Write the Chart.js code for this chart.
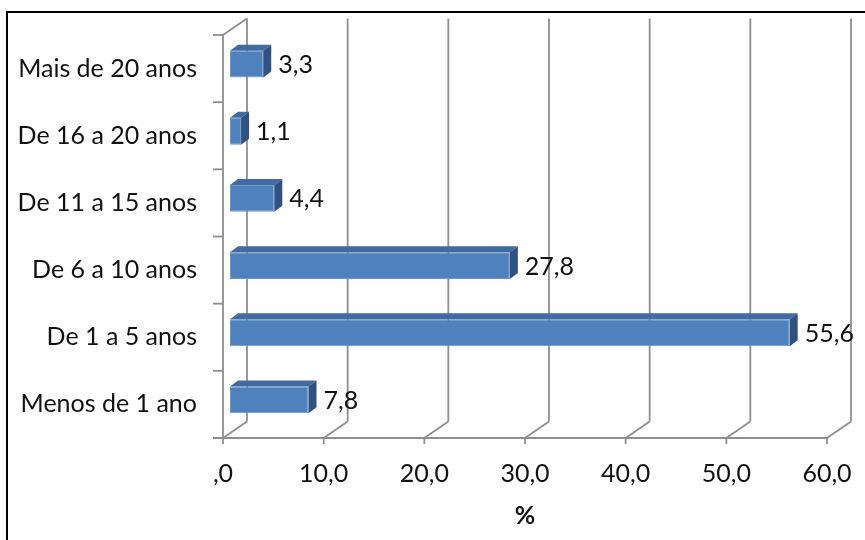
<!DOCTYPE html>
<html>
<head>
<meta charset="utf-8">
<script src="https://cdn.jsdelivr.net/npm/chart.js@4/dist/chart.umd.min.js"></script>
<style>
  body { margin: 0; background: #fff; }
  canvas { display: block; }
</style>
</head>
<body>
<canvas id="chart" width="865" height="540"></canvas>
<script>
const categories = ['Menos de 1 ano', 'De 1 a 5 anos', 'De 6 a 10 anos', 'De 11 a 15 anos', 'De 16 a 20 anos', 'Mais de 20 anos'];
const percentages = [7.8, 55.6, 27.8, 4.4, 1.1, 3.3];
const xTickValues = [0, 10, 20, 30, 40, 50, 60];
const xTickLabels = [',0', '10,0', '20,0', '30,0', '40,0', '50,0', '60,0'];

const FONT = 'Lato, "Noto Sans", sans-serif';
const GRID = '#8e8e8e';
// depth of the 3d box (floor / back wall) and of the bars
const WALL_DX = 24, WALL_DY = -16.5;
const BAR_SHIFT_X = 7, BAR_SHIFT_Y = -4.5;
const BAR_DX = 8, BAR_DY = -6;

const fmt = v => v.toFixed(1).replace('.', ',');

function line(ctx, x1, y1, x2, y2) {
  ctx.beginPath();
  ctx.moveTo(x1, y1);
  ctx.lineTo(x2, y2);
  ctx.stroke();
}

const frame3d = {
  id: 'frame3d',
  beforeDraw(chart) {
    const ctx = chart.ctx;
    ctx.save();
    ctx.fillStyle = '#000';
    ctx.fillRect(6, 11, 2, chart.height);
    ctx.fillRect(6, 11, chart.width, 2);
    ctx.restore();
  },
  beforeDatasetsDraw(chart) {
    const ctx = chart.ctx;
    const xs = chart.scales.x, ys = chart.scales.y;
    const top = ys.top, bottom = ys.bottom, left = xs.left;
    ctx.save();
    ctx.strokeStyle = GRID;
    ctx.lineWidth = 1.8;
    ctx.lineCap = 'butt';
    xTickValues.forEach(v => {
      const px = xs.getPixelForValue(v);
      line(ctx, px, bottom, px + WALL_DX, bottom + WALL_DY);
      line(ctx, px + WALL_DX, bottom + WALL_DY, px + WALL_DX, top + WALL_DY);
      line(ctx, px, bottom, px, bottom + 6);
    });
    // front axis and left wall
    line(ctx, left - 10, bottom, xs.getPixelForValue(60), bottom);
    line(ctx, left, top, left, bottom);
    line(ctx, left, top, left + WALL_DX, top + WALL_DY);
    const n = categories.length;
    for (let i = 0; i <= n; i++) {
      const y = top + i * (bottom - top) / n;
      line(ctx, left - 10, y, left, y);
    }
    ctx.restore();
    ctx.save();
    ctx.translate(BAR_SHIFT_X, BAR_SHIFT_Y);
  },
  afterDatasetsDraw(chart) {
    const ctx = chart.ctx;
    const meta = chart.getDatasetMeta(0);
    meta.data.forEach((bar, i) => {
      const {x, y, base, height} = bar.getProps(['x', 'y', 'base', 'height'], true);
      const t = y - height / 2, b = y + height / 2;
      ctx.fillStyle = '#3f6aa2';
      ctx.beginPath();
      ctx.moveTo(base, t);
      ctx.lineTo(x, t);
      ctx.lineTo(x + BAR_DX, t + BAR_DY);
      ctx.lineTo(base + BAR_DX, t + BAR_DY);
      ctx.closePath();
      ctx.fill();
      ctx.fillStyle = '#2f5283';
      ctx.beginPath();
      ctx.moveTo(x, t);
      ctx.lineTo(x + BAR_DX, t + BAR_DY);
      ctx.lineTo(x + BAR_DX, b + BAR_DY);
      ctx.lineTo(x, b);
      ctx.closePath();
      ctx.fill();
      ctx.fillStyle = '#111';
      ctx.font = '25px ' + FONT;
      ctx.textAlign = 'left';
      ctx.textBaseline = 'middle';
      ctx.fillText(fmt(percentages[i]), x + BAR_DX + 7, y + 1);
    });
    ctx.restore();
  }
};

new Chart(document.getElementById('chart'), {
  type: 'bar',
  data: {
    labels: categories,
    datasets: [{
      data: percentages,
      backgroundColor: '#4f81bd',
      borderColor: '#6f97c9',
      borderWidth: 1,
      borderSkipped: false,
      categoryPercentage: 1,
      barPercentage: 0.4
    }]
  },
  options: {
    indexAxis: 'y',
    responsive: false,
    animation: false,
    events: [],
    layout: { padding: { left: 0, right: 38, top: 35, bottom: 0 } },
    plugins: { legend: { display: false }, tooltip: { enabled: false } },
    scales: {
      x: {
        min: 0,
        max: 60,
        afterBuildTicks: s => { s.ticks = xTickValues.map(v => ({ value: v })); },
        afterFit: s => { s.height = 102; s.paddingLeft = 0; s.paddingRight = 0; },
        grid: { display: false, drawTicks: false },
        border: { display: false },
        ticks: {
          padding: 21,
          color: '#111',
          font: { family: FONT, size: 25 },
          maxRotation: 0,
          callback: (v, i) => xTickLabels[i]
        },
        title: {
          display: true,
          text: '%',
          color: '#111',
          font: { family: FONT, size: 25, weight: 'bold' },
          padding: { top: 0, bottom: 9 }
        }
      },
      y: {
        reverse: true,
        afterFit: s => { s.width = 223; s.paddingTop = 0; s.paddingBottom = 0; },
        grid: { display: false, drawTicks: false },
        border: { display: false },
        ticks: {
          padding: 26,
          color: '#111',
          font: { family: FONT, size: 25 }
        }
      }
    }
  },
  plugins: [frame3d]
});
</script>
</body>
</html>
